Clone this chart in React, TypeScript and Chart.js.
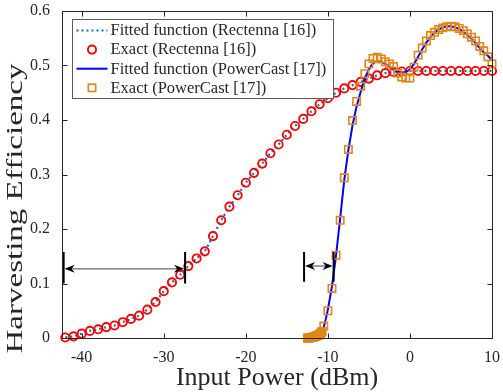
import React, { useEffect, useRef } from "react";
import { Chart, registerables } from "chart.js";

Chart.register(...registerables);

// ---------- data ----------
const rectennaPower = [
  -42, -41, -40, -39, -38, -37, -36, -35, -34, -33, -32, -31, -30, -29, -28, -27, -26, -25,
  -24, -23, -22, -21, -20, -19, -18, -17, -16, -15, -14, -13, -12, -11, -10, -9, -8, -7, -6,
  -5, -4, -3, -2, -1, 0, 1, 2, 3, 4, 5, 6, 7, 8, 9, 10,
];
const rectennaEff = [
  0.001, 0.003, 0.008, 0.013, 0.016, 0.020, 0.023, 0.029, 0.035, 0.041, 0.052, 0.066, 0.086,
  0.102, 0.116, 0.132, 0.146, 0.159, 0.187, 0.216, 0.241, 0.262, 0.285, 0.303, 0.320, 0.339,
  0.355, 0.373, 0.389, 0.402, 0.416, 0.429, 0.440, 0.450, 0.458, 0.464, 0.470, 0.476, 0.482,
  0.486, 0.488, 0.489, 0.490, 0.490, 0.490, 0.490, 0.490, 0.490, 0.490, 0.490, 0.490, 0.490,
  0.490,
];
const rectennaFitEff = [
  0.001, 0.003, 0.008, 0.013, 0.016, 0.020, 0.023, 0.029, 0.035, 0.041, 0.052, 0.066, 0.086,
  0.102, 0.116, 0.132, 0.146, 0.159, 0.187, 0.216, 0.241, 0.262, 0.285, 0.303, 0.320, 0.339,
  0.355, 0.373, 0.389, 0.402, 0.416, 0.429, 0.440, 0.450, 0.458, 0.464, 0.470, 0.476, 0.482,
  0.486, 0.488, 0.489, 0.490, 0.490, 0.490, 0.490, 0.490, 0.490, 0.490, 0.490, 0.490, 0.490,
  0.490,
];

const powercastPower = [
  -12.5, -12.4, -12.3, -12.2, -12.1, -12.0, -11.9, -11.8, -11.7, -11.6, -11.5, -11.4, -11.3,
  -11.2, -11.1, -11.0, -10.9, -10.8, -10.7, -10.5, -10, -9.5, -9, -8.5, -8, -7.5, -7, -6.5, -6,
  -5.5, -5, -4.5, -4, -3.5, -3, -2.5, -2, -1.5, -1, -0.5, 0, 0.5, 1, 1.5, 2, 2.5, 3, 3.5, 4,
  4.5, 5, 5.5, 6, 6.5, 7, 7.5, 8, 8.5, 9, 9.5, 10,
];
const powercastEff = [
  0.0, 0.0, 0.0, 0.0, 0.001, 0.001, 0.001, 0.002, 0.002, 0.003, 0.003, 0.004, 0.004, 0.005,
  0.006, 0.007, 0.008, 0.010, 0.012, 0.022, 0.05, 0.091, 0.152, 0.216, 0.294, 0.346, 0.399,
  0.434, 0.462, 0.485, 0.503, 0.513, 0.515, 0.512, 0.507, 0.503, 0.498, 0.486, 0.479, 0.477,
  0.477, 0.497, 0.519, 0.532, 0.545, 0.555, 0.561, 0.566, 0.569, 0.571, 0.572, 0.571, 0.568,
  0.564, 0.558, 0.552, 0.545, 0.535, 0.527, 0.516, 0.503,
];

const powercastFitPower = [
  -11, -10.75, -10.5, -10.25, -10, -9.5, -9, -8.5, -8, -7.5, -7, -6.5, -6, -5.5, -5, -4.5, -4,
  -3.5, -3, -2.5, -2, -1.5, -1, -0.5, 0, 0.5, 1, 1.5, 2, 2.5, 3, 3.5, 4, 4.5, 5, 5.5, 6, 6.5, 7,
  7.5, 8, 8.5, 9, 9.5, 10,
];
const powercastFitEff = [
  0.0, 0.006, 0.02, 0.035, 0.052, 0.095, 0.152, 0.22, 0.29, 0.345, 0.39, 0.425, 0.452, 0.476,
  0.493, 0.504, 0.508, 0.507, 0.503, 0.498, 0.493, 0.489, 0.487, 0.488, 0.493, 0.503, 0.516,
  0.53, 0.542, 0.552, 0.56, 0.566, 0.57, 0.572, 0.572, 0.57, 0.567, 0.562, 0.556, 0.549, 0.541,
  0.532, 0.524, 0.518, 0.51,
];

const seriesLabels = [
  "Fitted function (Rectenna [16])",
  "Exact (Rectenna [16])",
  "Fitted function (PowerCast [17])",
  "Exact (PowerCast [17])",
];

const xTickValues = [-40, -30, -20, -10, 0, 10];
const yTickValues = [0, 0.1, 0.2, 0.3, 0.4, 0.5, 0.6];
const xRange = [-42.4, 10];
const yRange = [0, 0.6];

const xTitle = "Input Power (dBm)";
const yTitle = "Harvesting Efficiency";

// annotation arrows (data coordinates)
const arrowFrom = [-42.2, -12.9];
const arrowTo = [-27.4, -9.3];
const arrowLevel = [0.127, 0.132];
const barBottom = [0.1, 0.103];
const barTop = [0.158, 0.158];

// ---------- styles ----------
const FONT = '"Liberation Serif", "Times New Roman", serif';
const TEXT = "#262626";
const C_RECT_FIT = "#0072BD";
const C_RECT_EXACT = "#FF0000";
const C_PC_FIT = "#0000FF";
const C_PC_EXACT = "#E0861A";

function toPts(xs: number[], ys: number[]) {
  return xs.map((x, i) => ({ x, y: ys[i] }));
}

function arrowHead(ctx: CanvasRenderingContext2D, tx: number, ty: number, dir: number) {
  const L = 10;
  const H = 4;
  const N = 7;
  ctx.beginPath();
  ctx.moveTo(tx, ty);
  ctx.lineTo(tx + dir * L, ty - H);
  ctx.lineTo(tx + dir * N, ty);
  ctx.lineTo(tx + dir * L, ty + H);
  ctx.closePath();
  ctx.fill();
}

const extrasPlugin = {
  id: "extras",
  afterDatasetsDraw(chart: any) {
    const { ctx, chartArea: a, scales } = chart;
    const xs = scales.x;
    const ys = scales.y;
    ctx.save();

    // annotation arrows
    for (let i = 0; i < arrowFrom.length; i++) {
      const x1 = xs.getPixelForValue(arrowFrom[i]);
      const x2 = xs.getPixelForValue(arrowTo[i]);
      const y = ys.getPixelForValue(arrowLevel[i]);
      const yb = ys.getPixelForValue(barBottom[i]);
      const yt = ys.getPixelForValue(barTop[i]);
      ctx.strokeStyle = "#6a6a6a";
      ctx.lineWidth = 1.3;
      ctx.beginPath();
      ctx.moveTo(x1 + 6, y);
      ctx.lineTo(x2 - 6, y);
      ctx.stroke();
      ctx.fillStyle = "#000";
      arrowHead(ctx, x1 + 1, y, 1);
      arrowHead(ctx, x2 - 1, y, -1);
      ctx.strokeStyle = "#000";
      ctx.lineWidth = 2;
      ctx.beginPath();
      ctx.moveTo(x1, yb);
      ctx.lineTo(x1, yt);
      ctx.moveTo(x2, yb);
      ctx.lineTo(x2, yt);
      ctx.stroke();
    }

    // axes box
    const L = Math.floor(a.left) + 0.5;
    const R = Math.floor(a.right) + 0.5;
    const T = Math.floor(a.top) + 0.5;
    const B = Math.floor(a.bottom) + 0.5;
    ctx.strokeStyle = TEXT;
    ctx.lineWidth = 1;
    ctx.beginPath();
    ctx.rect(L, T, R - L, B - T);
    ctx.stroke();
    const tl = 5;
    ctx.beginPath();
    for (const v of xTickValues) {
      const px = Math.round(xs.getPixelForValue(v)) + 0.5;
      ctx.moveTo(px, B);
      ctx.lineTo(px, B - tl);
      ctx.moveTo(px, T);
      ctx.lineTo(px, T + tl);
    }
    for (const v of yTickValues) {
      const py = Math.round(ys.getPixelForValue(v)) + 0.5;
      ctx.moveTo(L, py);
      ctx.lineTo(L + tl, py);
      ctx.moveTo(R, py);
      ctx.lineTo(R - tl, py);
    }
    ctx.stroke();
    ctx.restore();
  },
  afterDraw(chart: any) {
    const { ctx, chartArea: a } = chart;
    ctx.save();

    // y-axis title
    ctx.font = `25px ${FONT}`;
    ctx.fillStyle = TEXT;
    ctx.textAlign = "center";
    ctx.textBaseline = "middle";
    ctx.translate(16, 208.5);
    ctx.rotate(-Math.PI / 2);
    const w = ctx.measureText(yTitle).width;
    ctx.scale(290 / w, 0.92);
    ctx.fillText(yTitle, 0, 0);
    ctx.restore();

    // legend
    ctx.save();
    const bx = Math.round(a.left + 10) + 0.5;
    const by = Math.round(a.top + 8) + 0.5;
    const bw = 261;
    const bh = 79;
    ctx.fillStyle = "#fff";
    ctx.fillRect(bx, by, bw, bh);
    ctx.strokeStyle = "#5a5a5a";
    ctx.lineWidth = 1;
    ctx.strokeRect(bx, by, bw, bh);
    const rowH = 19.1;
    const y0 = by + 11;
    const sx0 = bx + 4;
    const sx1 = bx + 35;
    const mx = (sx0 + sx1) / 2;
    ctx.font = `16.5px ${FONT}`;
    ctx.textAlign = "left";
    ctx.textBaseline = "middle";
    const ds = chart.data.datasets;
    for (let i = 0; i < ds.length; i++) {
      const d = ds[i];
      const y = y0 + i * rowH;
      if (d.showLine) {
        ctx.strokeStyle = d.borderColor;
        ctx.lineWidth = d.borderWidth;
        ctx.setLineDash(d.borderDash || []);
        ctx.beginPath();
        ctx.moveTo(sx0, y);
        ctx.lineTo(sx1, y);
        ctx.stroke();
        ctx.setLineDash([]);
      } else if (d.pointStyle === "circle") {
        ctx.strokeStyle = d.borderColor;
        ctx.lineWidth = d.pointBorderWidth;
        ctx.beginPath();
        ctx.arc(mx, y, d.pointRadius, 0, Math.PI * 2);
        ctx.stroke();
      } else {
        ctx.strokeStyle = d.borderColor;
        ctx.lineWidth = d.pointBorderWidth;
        const s = d.pointRadius * Math.SQRT1_2;
        ctx.strokeRect(mx - s, y - s, 2 * s, 2 * s);
      }
      ctx.fillStyle = TEXT;
      ctx.fillText(d.label, bx + 38, y + 0.5);
    }
    ctx.restore();
  },
};

export default function App() {
  const ref = useRef<HTMLCanvasElement | null>(null);

  useEffect(() => {
    if (!ref.current) return;
    const chart = new Chart(ref.current, {
      type: "scatter",
      data: {
        datasets: [
          {
            label: seriesLabels[0],
            data: toPts(rectennaPower, rectennaFitEff),
            showLine: true,
            borderColor: C_RECT_FIT,
            borderWidth: 2.2,
            borderDash: [2, 3],
            pointRadius: 0,
            order: 4,
          },
          {
            label: seriesLabels[1],
            data: toPts(rectennaPower, rectennaEff),
            showLine: false,
            pointStyle: "circle",
            pointRadius: 4.1,
            pointBorderWidth: 1.9,
            borderColor: C_RECT_EXACT,
            pointBorderColor: C_RECT_EXACT,
            pointBackgroundColor: "rgba(0,0,0,0)",
            backgroundColor: "rgba(0,0,0,0)",
            clip: false,
            order: 3,
          },
          {
            label: seriesLabels[2],
            data: toPts(powercastFitPower, powercastFitEff),
            showLine: true,
            borderColor: C_PC_FIT,
            borderWidth: 2,
            pointRadius: 0,
            order: 2,
          },
          {
            label: seriesLabels[3],
            data: toPts(powercastPower, powercastEff),
            showLine: false,
            pointStyle: "rect",
            pointRadius: 5.2,
            pointBorderWidth: 1.6,
            borderColor: C_PC_EXACT,
            pointBorderColor: C_PC_EXACT,
            pointBackgroundColor: "rgba(0,0,0,0)",
            backgroundColor: "rgba(0,0,0,0)",
            clip: false,
            order: 1,
          },
        ] as any,
      },
      options: {
        animation: false,
        responsive: false,
        devicePixelRatio: 1,
        events: [],
        layout: { padding: { left: 0, top: 11, right: 11, bottom: 0 } },
        plugins: {
          legend: { display: false },
          tooltip: { enabled: false },
          title: { display: false },
        },
        scales: {
          x: {
            type: "linear",
            min: xRange[0],
            max: xRange[1],
            grid: { display: false, drawTicks: false },
            border: { display: false },
            afterBuildTicks: (s: any) => {
              s.ticks = xTickValues.map((value) => ({ value }));
            },
            afterFit: (s: any) => {
              s.height = 54;
              s.paddingLeft = 0;
              s.paddingRight = 0;
            },
            ticks: {
              autoSkip: false,
              maxRotation: 0,
              padding: 10.5,
              color: TEXT,
              font: { family: FONT, size: 16 },
              callback: (v: any) => String(v),
            },
            title: {
              display: true,
              text: xTitle,
              color: TEXT,
              font: { family: FONT, size: 26, lineHeight: 1 },
              padding: { top: 0, bottom: 1 },
            },
          },
          y: {
            type: "linear",
            min: yRange[0],
            max: yRange[1],
            grid: { display: false, drawTicks: false },
            border: { display: false },
            afterBuildTicks: (s: any) => {
              s.ticks = yTickValues.map((value) => ({ value }));
            },
            afterFit: (s: any) => {
              s.width = 62;
              s.paddingTop = 0;
              s.paddingBottom = 0;
            },
            ticks: {
              autoSkip: false,
              padding: 12,
              color: TEXT,
              font: { family: FONT, size: 16 },
              callback: (v: any) => (Number(v) === 0 ? "0" : Number(v).toFixed(1)),
            },
          },
        },
      } as any,
      plugins: [extrasPlugin],
    });
    return () => chart.destroy();
  }, []);

  return (
    <div style={{ position: "absolute", left: 0, top: 0 }}>
      <canvas ref={ref} width={503} height={392} style={{ display: "block" }} />
    </div>
  );
}
